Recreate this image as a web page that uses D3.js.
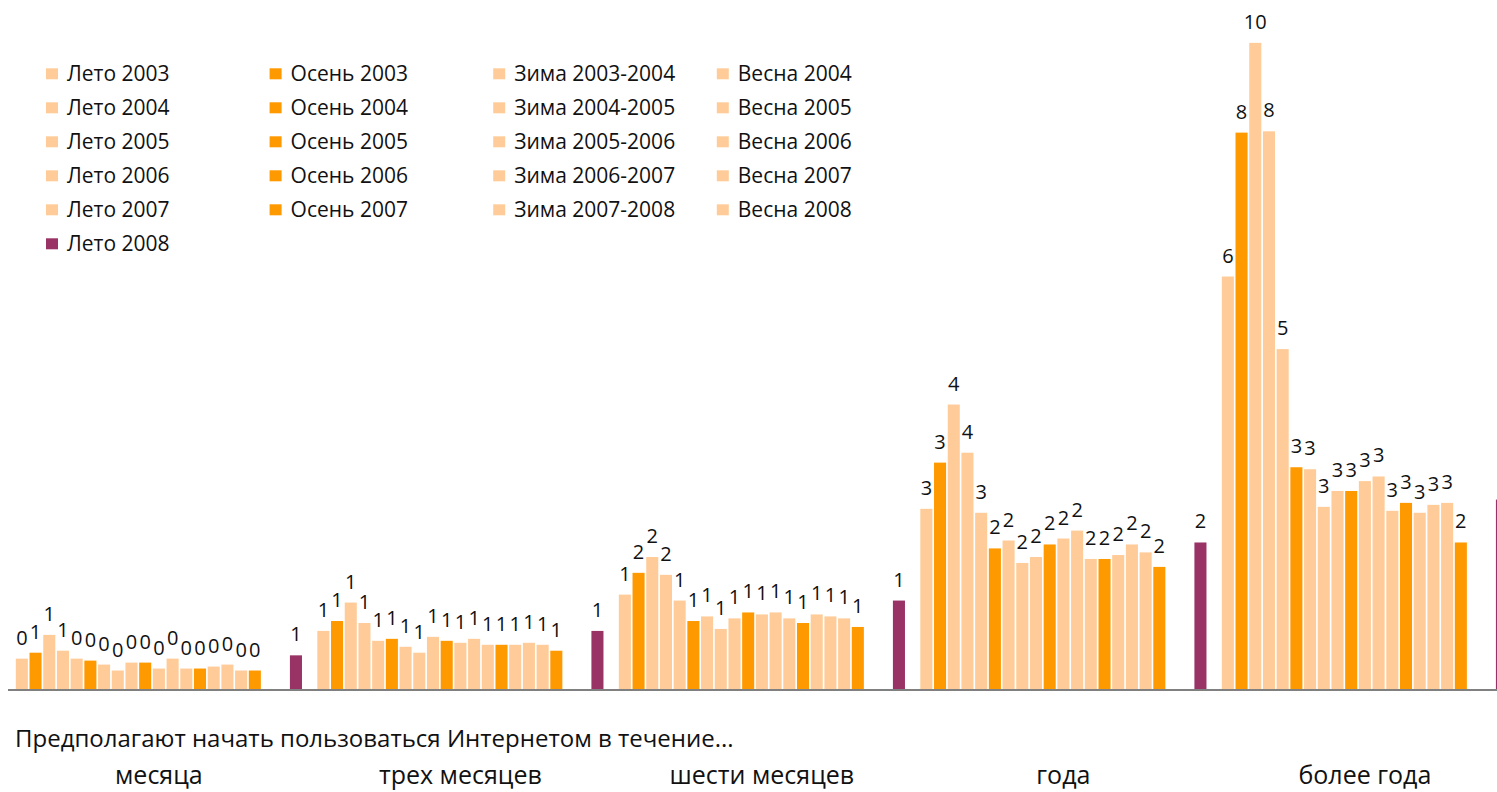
<!DOCTYPE html>
<html>
<head>
<meta charset="utf-8">
<script src="https://cdn.jsdelivr.net/npm/d3@7"></script>
<style>
  body { margin: 0; background: #fff; }
  svg { display: block; font-family: "Open Sans", sans-serif; }
</style>
</head>
<body>
<div id="chart"></div>
<script>
// Categories (groups along x)
const groups = ["месяца", "трех месяцев", "шести месяцев", "года", "более года"];

// Survey waves (series)
const seriesNames = [
    "Лето 2003", "Осень 2003", "Зима 2003-2004", "Весна 2004",
    "Лето 2004", "Осень 2004", "Зима 2004-2005", "Весна 2005",
    "Лето 2005", "Осень 2005", "Зима 2005-2006", "Весна 2006",
    "Лето 2006", "Осень 2006", "Зима 2006-2007", "Весна 2007",
    "Лето 2007", "Осень 2007", "Зима 2007-2008", "Весна 2008",
    "Лето 2008"
];

// Values per group, one per series (null = no data)
const valMonth  = [0.46, 0.55, 0.82, 0.58, 0.46, 0.43, 0.37, 0.28, 0.40, 0.40, 0.31, 0.46, 0.31, 0.31, 0.34, 0.37, 0.28, 0.28, null, null, 0.51];
const valThree  = [0.88, 1.03, 1.31, 1.00, 0.73, 0.76, 0.64, 0.55, 0.79, 0.73, 0.70, 0.76, 0.67, 0.67, 0.67, 0.70, 0.67, 0.58, null, null, 0.88];
const valSix    = [1.43, 1.76, 2.00, 1.73, 1.34, 1.03, 1.10, 0.91, 1.07, 1.16, 1.13, 1.16, 1.07, 1.00, 1.13, 1.10, 1.07, 0.94, null, null, 1.34];
const valYear   = [2.73, 3.43, 4.31, 3.58, 2.67, 2.13, 2.25, 1.91, 2.00, 2.19, 2.28, 2.40, 1.97, 1.97, 2.03, 2.19, 2.07, 1.85, null, null, 2.22];
const valMore   = [6.25, 8.43, 9.79, 8.45, 5.15, 3.36, 3.33, 2.76, 3.00, 3.00, 3.15, 3.22, 2.70, 2.82, 2.67, 2.79, 2.82, 2.22, null, null, 2.87];
const groupValues = [valMonth, valThree, valSix, valYear, valMore];

const axisTitle = "Предполагают начать пользоваться Интернетом в течение...";

// Colours by season
const seasonColor = name => {
    if (name === "Лето 2008") return "#993366";
    if (name.startsWith("Осень")) return "#ff9900";
    return "#ffcc99";
};

const W = 1497, H = 792;
const baseY = 689;

const svg = d3.select("#chart")
    .append("svg")
    .attr("width", W)
    .attr("height", H);

// Scales
const step = 301.5;
const x0 = d3.scaleBand()
    .domain(groups)
    .range([15, 15 + step * (5 - 1 / 22)])
    .paddingInner(1 / 22)
    .paddingOuter(0);

const x1 = d3.scaleBand()
    .domain(seriesNames)
    .range([0, x0.bandwidth()])
    .paddingInner(0.12)
    .paddingOuter(0.06);

const y = d3.scaleLinear()
    .domain([0, 10])
    .range([baseY, 29]);

const color = d3.scaleOrdinal()
    .domain(seriesNames)
    .range(seriesNames.map(seasonColor));

// Flatten data
const rows = [];
groups.forEach((g, gi) => {
    seriesNames.forEach((s, si) => {
        const v = groupValues[gi][si];
        if (v != null) rows.push({ group: g, series: s, value: v });
    });
});

const barX = d => x0(d.group) + x1(d.series);

// Bars
svg.append("g")
    .selectAll("rect")
    .data(rows)
    .enter()
    .append("rect")
    .attr("x", barX)
    .attr("y", d => y(d.value))
    .attr("width", x1.bandwidth())
    .attr("height", d => baseY - y(d.value))
    .attr("fill", d => color(d.series));

// Value labels (skip the bar that runs off the right edge)
svg.append("g")
    .selectAll("text")
    .data(rows.filter(d => barX(d) + x1.bandwidth() < W))
    .enter()
    .append("text")
    .attr("x", d => barX(d) + x1.bandwidth() / 2)
    .attr("y", d => y(d.value) - 14)
    .attr("text-anchor", "middle")
    .style("font-size", "20px")
    .style("fill", "#111")
    .text(d => Math.round(d.value));

// Baseline
svg.append("line")
    .attr("x1", 8)
    .attr("x2", W)
    .attr("y1", baseY + 1)
    .attr("y2", baseY + 1)
    .attr("stroke", "#808080")
    .attr("stroke-width", 2);

// Group labels
svg.append("g")
    .selectAll("text")
    .data(groups)
    .enter()
    .append("text")
    .attr("x", d => x0(d) + x0.bandwidth() / 2)
    .attr("y", 784)
    .attr("text-anchor", "middle")
    .style("font-size", "25px")
    .style("fill", "#111")
    .text(d => d);

// Axis title
svg.append("text")
    .attr("x", 15)
    .attr("y", 747)
    .style("font-size", "24px")
    .style("fill", "#111")
    .text(axisTitle);

// Legend, 4 columns, row-major
const legend = svg.append("g")
    .selectAll("g")
    .data(seriesNames)
    .enter()
    .append("g")
    .attr("transform", (d, i) => `translate(${46 + (i % 4) * 223.6},${73.8 + Math.floor(i / 4) * 34})`);

legend.append("rect")
    .attr("x", 0)
    .attr("y", -5.5)
    .attr("width", 12)
    .attr("height", 11)
    .attr("fill", d => color(d));

legend.append("text")
    .attr("x", 21)
    .attr("y", 0)
    .attr("dy", "0.35em")
    .style("font-size", "21px")
    .style("fill", "#111")
    .text(d => d);
</script>
</body>
</html>
